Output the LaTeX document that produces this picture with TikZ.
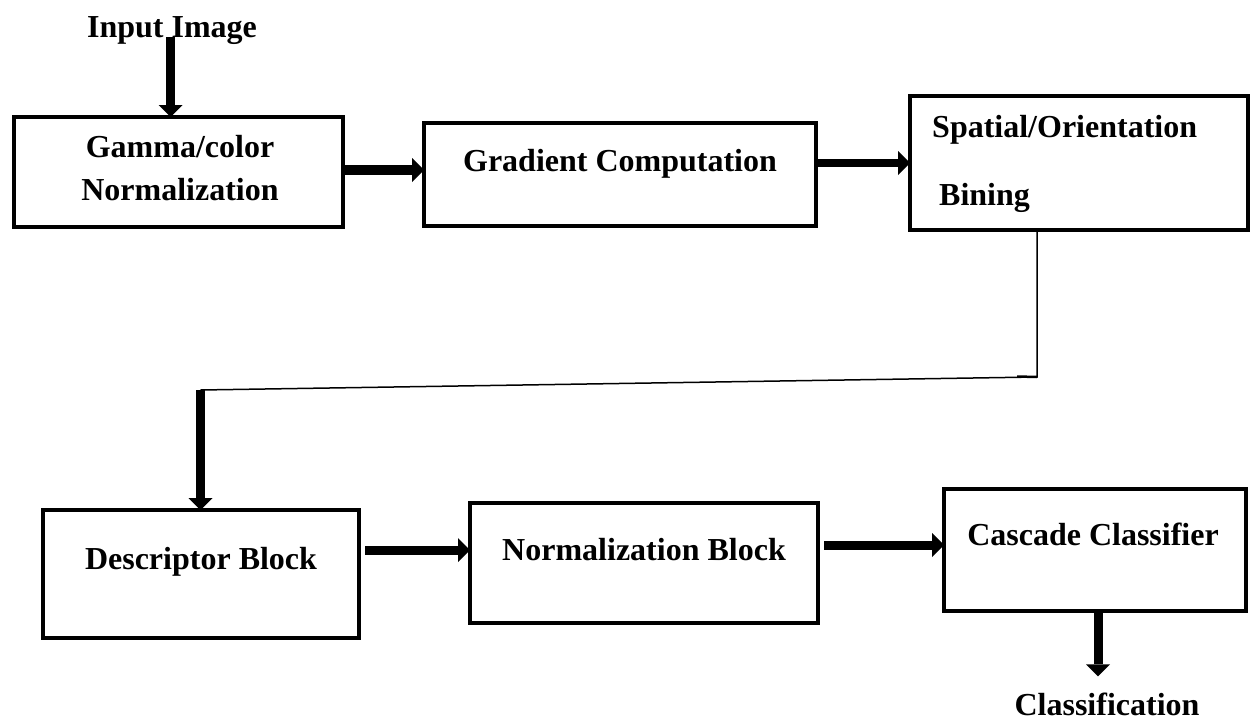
\documentclass[tikz,border=0pt]{standalone}
\usepackage{fontspec}
\setmainfont{Liberation Serif}
\usetikzlibrary{arrows.meta}
\begin{document}
\begin{tikzpicture}[x=1pt,y=-1pt,
  box/.style={draw, line width=4pt, outer sep=0pt, inner sep=0pt, rectangle},
  lbl/.style={font=\bfseries\fontsize{32}{38}\selectfont, inner sep=0pt, anchor=base},
  lblw/.style={lbl, anchor=base west},
  fat/.style={line width=9pt, -{Triangle[width=24pt,length=12pt,line width=0pt]}},
  thinline/.style={line width=1.5pt}]
\useasboundingbox (0,0) rectangle (1255,720);

% boxes
\node[box, minimum width=329pt, minimum height=110pt] (b1) at (178.5,172) {};
\node[box, minimum width=392pt, minimum height=103pt] (b2) at (620,174.5) {};
\node[box, minimum width=338pt, minimum height=134pt] (b3) at (1079,163) {};
\node[box, minimum width=316pt, minimum height=128pt] (b4) at (201,574) {};
\node[box, minimum width=348pt, minimum height=120pt] (b5) at (644,563) {};
\node[box, minimum width=302pt, minimum height=122pt] (b6) at (1095,550) {};

% labels
\node[lbl] (tin) at (172,37) {Input Image};
\node[lbl] (t1a) at (180,157) {Gamma/color};
\node[lbl] (t1b) at (180,200) {Normalization};
\node[lbl] (t2) at (620,171) {Gradient Computation};
\node[lblw] (t3a) at (932,137) {Spatial/Orientation};
\node[lblw] (t3b) at (939,205) {Bining};
\node[lbl] (t4) at (201,569) {Descriptor Block};
\node[lbl] (t5) at (644,560) {Normalization Block};
\node[lbl] (t6) at (1093,545) {Cascade Classifier};
\node[lbl] (tcl) at (1107,715) {Classification};

% connectors
\draw[fat] (170.5,0 |- tin.base) -- (170.5,0 |- b1.north);
\draw[fat, line width=10pt] (b1.east |- 0,170) -- (b2.west |- 0,170);
\draw[fat, line width=8pt] (b2.east |- 0,163) -- (b3.west |- 0,163);
\coordinate (k1) at (1037,377);
\coordinate (k2) at (200.5,390);
\coordinate (k0) at (1017,376.5);
\draw[thinline] (1037,0 |- b3.south) -- (k1) -- (k2);
\draw[line width=2.5pt] (k0) -- (k1);
\draw[fat] (k2) -- (k2 |- b4.north);
\draw[fat, shorten <=6pt] (b4.east |- 0,550) -- (b5.west |- 0,550);
\draw[fat, shorten <=6pt] (b5.east |- 0,545) -- (b6.west |- 0,545);
\draw[fat, shorten >=16pt] (1098,0 |- b6.south) -- (1098,0 |- tcl.north);
\end{tikzpicture}
\end{document}
